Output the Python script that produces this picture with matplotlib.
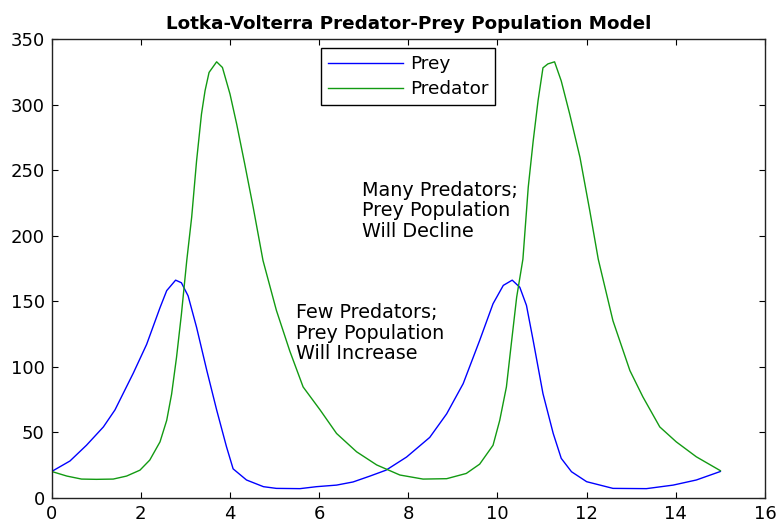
import matplotlib
matplotlib.use("Agg")
import matplotlib.pyplot as plt

# values
prey_t = [0, 0.41, 0.78, 1.16, 1.42, 1.83, 2.13, 2.43, 2.58, 2.78, 2.91, 3.06,
          3.25, 3.48, 3.70, 3.92, 4.07, 4.37, 4.75, 5.04, 5.57, 5.94, 6.39, 6.76,
          7.14, 7.50, 7.96, 8.48, 8.86, 9.23, 9.60, 9.90, 10.13, 10.33, 10.50,
          10.65, 10.80, 11.02, 11.25, 11.43, 11.66, 12.0, 12.59, 13.34, 13.94,
          14.46, 15.0]
prey = [20, 28, 40, 54, 67, 95, 117, 145, 158, 166, 164, 154,
        130, 97, 67, 39, 22, 13.5, 8.4, 7.1, 6.9, 8.4, 9.6, 12,
        16.5, 21, 31, 46, 64, 87, 120, 148, 162, 166, 160.6,
        146.7, 120, 79.4, 49, 30, 19.8, 12.2, 7.1, 6.9, 9.6,
        13.5, 20]

pred_t = [0, 0.34, 0.67, 1.0, 1.38, 1.68, 1.98, 2.2, 2.43, 2.58, 2.69, 2.80,
          2.91, 3.03, 3.14, 3.25, 3.36, 3.44, 3.53, 3.70, 3.83, 4.0, 4.15, 4.33,
          4.52, 4.74, 5.04, 5.34, 5.64, 6.02, 6.39, 6.84, 7.29, 7.81, 8.33, 8.86,
          9.30, 9.60, 9.90, 10.05, 10.20, 10.31, 10.43, 10.57, 10.69, 10.80,
          10.91, 11.02, 11.13, 11.28, 11.43, 11.62, 11.85, 12.07, 12.26, 12.59,
          12.97, 13.26, 13.64, 14.01, 14.46, 15.0]
predator = [20, 16.5, 14.2, 14, 14.2, 16.5, 21, 28.7, 42.6, 59, 79, 107,
            140, 181, 214, 257, 292.7, 310.5, 324.5, 332.6, 328.3, 308, 285, 254.7,
            221.6, 181, 143, 112, 84.5, 67, 49, 35, 25, 17.3, 14.2, 14.5,
            18.5, 25.6, 40, 59, 84.5, 117.5, 153, 182, 237, 272,
            303, 328, 331, 332.6, 318, 292.7, 259.7, 219, 182, 135,
            97, 77, 54, 42.6, 31.2, 20.6]

x_ticks = list(range(0, 17, 2))
y_ticks = list(range(0, 351, 50))


def main():
    plt.rcParams['font.family'] = ['DejaVu Sans']
    fig = plt.figure(figsize=(7.76, 5.23), dpi=100)
    ax = fig.add_axes([0.0666, 0.0484, 0.9192, 0.877])

    ax.plot(prey_t, prey, color='#0000ff', lw=1.0, label='Prey')
    ax.plot(pred_t, predator, color='#129a12', lw=1.0, label='Predator')

    ax.set_xlim(0, 16)
    ax.set_ylim(0, 350)
    ax.set_xticks(x_ticks)
    ax.set_yticks(y_ticks)
    ax.tick_params(direction='in', top=True, right=True, length=4,
                   labelsize=13, pad=5, width=0.8)
    for s in ax.spines.values():
        s.set_linewidth(1.0)
        s.set_color('#222222')

    ax.set_title('Lotka-Volterra Predator-Prey Population Model',
                 fontsize=13.2, fontweight='bold', pad=7)

    ax.text(6.95, 219, 'Many Predators;\nPrey Population\nWill Decline',
            fontsize=13.8, va='center', ha='left', linespacing=1.1)
    ax.text(5.48, 125.5, 'Few Predators;\nPrey Population\nWill Increase',
            fontsize=13.8, va='center', ha='left', linespacing=1.1)

    leg = ax.legend(loc='upper left', bbox_to_anchor=(0.3775, 0.98),
                    borderaxespad=0, fontsize=13.3, fancybox=False,
                    framealpha=1, edgecolor='black', handlelength=4.05,
                    handletextpad=0.4, borderpad=0.37, labelspacing=0.4)
    leg.get_frame().set_linewidth(1.0)

    fig.savefig('out.png', dpi=100)


if __name__ == "__main__":
    main()
